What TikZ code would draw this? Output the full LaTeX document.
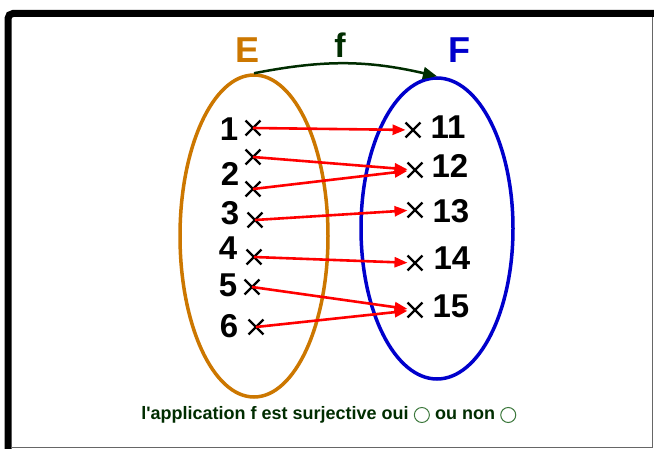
\documentclass[tikz,border=0pt]{standalone}
\usepackage{fontspec}
\setmainfont{Liberation Sans}
\usetikzlibrary{arrows.meta,positioning,shapes.geometric,shapes.misc}
\definecolor{setorange}{RGB}{204,119,0}
\definecolor{setblue}{RGB}{0,0,204}
\definecolor{darkgreen}{RGB}{0,45,0}
\definecolor{ringgreen}{RGB}{60,120,60}
\tikzset{
  setbox/.style={ellipse, line width=3.5pt, inner sep=0pt, fill=none},
  setname/.style={font=\fontsize{36}{36}\selectfont\bfseries, inner sep=0pt},
  pt/.style={cross out, draw=black, line width=2.4pt, minimum size=12.5pt, inner sep=0pt},
  num/.style={font=\fontsize{33}{33}\selectfont\bfseries, inner sep=0pt},
  map/.style={-{Triangle[length=13pt, width=10pt]}, draw=red, line width=2.6pt},
  fmap/.style={-{Triangle[length=14pt, width=12pt]}, draw=darkgreen, line width=2.5pt},
  note/.style={font=\fontsize{18}{18}\selectfont\bfseries, text=darkgreen, inner sep=0pt},
  ring/.style={circle, draw=ringgreen, line width=1pt, minimum size=15pt, inner sep=0pt}
}

\begin{document}
\begin{tikzpicture}[x=1pt, y=-1pt]
  \useasboundingbox[fill=white] (0,0) rectangle (654,449);
  % frame
  \draw[line width=7pt, rounded corners=5pt] (8,449) -- (8,13.5) -- (654,13.5);
  \draw[black!60, line width=1pt] (11,447) -- (652,447) -- (652,17);

  % the two sets
  \node[setbox, draw=setorange, minimum width=148pt, minimum height=322pt] (E) at (254,236) {};
  \node[setbox, draw=setblue, minimum width=152pt, minimum height=301pt] (F) at (437,228.5) {};
  \node[setname, text=setorange] (nE) at (248,50) {E};
  \node[setname, text=setblue] (nF) at (459,50) {F};
  \node[setname, text=darkgreen, font=\fontsize{34}{34}\selectfont\bfseries] (nf) at (340,45) {f};
  \draw[fmap] (E.north) to[bend left=12] (F.north);

  % elements of E
  \node[pt] (e1) at (253,128) {};
  \node[pt] (e2a) at (253,157) {};
  \node[pt] (e2b) at (253,189) {};
  \node[pt] (e3) at (255,220) {};
  \node[pt] (e4) at (254,257) {};
  \node[pt] (e5) at (252,287) {};
  \node[pt] (e6) at (256,327) {};
  \node[num] (l1) at (229,129) {1};
  \node[num] (l2) at (230,174) {2};
  \node[num] (l3) at (230,213) {3};
  \node[num] (l4) at (228,248) {4};
  \node[num] (l5) at (228,285) {5};
  \node[num] (l6) at (229,326) {6};

  % elements of F
  \node[pt] (f11) at (413,130) {};
  \node[pt] (f12) at (415,170) {};
  \node[pt] (f13) at (415,210) {};
  \node[pt] (f14) at (415,263) {};
  \node[pt] (f15) at (415,310) {};
  \node[num] (l11) at (448,127) {11};
  \node[num] (l12) at (450,166) {12};
  \node[num] (l13) at (451,211) {13};
  \node[num] (l14) at (452,258) {14};
  \node[num] (l15) at (451,306) {15};

  % images
  \draw[map] (e1.center) -- (f11);
  \draw[map] (e2a.center) -- (f12);
  \draw[map] (e2b.center) -- (f12);
  \draw[map] (e3.center) -- (f13);
  \draw[map] (e4.center) -- (f14);
  \draw[map] (e5.center) -- (f15);
  \draw[map] (e6.center) -- (f15);

  % question
  \node[note] (q) at (275,415) {l\textquotesingle application f est surjective oui};
  \node[ring, right=5pt of q] (oui) {};
  \node[note, right=5pt of oui] (q2) {ou non};
  \node[ring, right=5pt of q2] (non) {};
\end{tikzpicture}
\end{document}
